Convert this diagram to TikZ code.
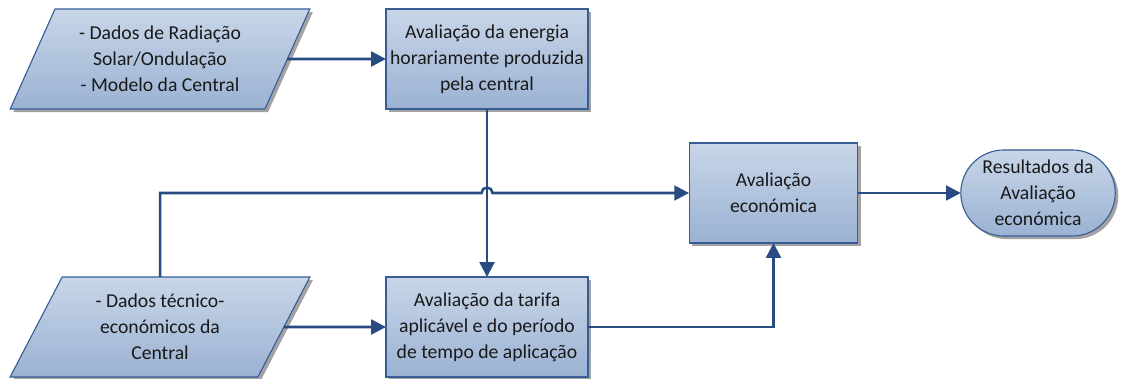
\documentclass[tikz,border=0pt]{standalone}
\usepackage{fontspec}
\setmainfont{Carlito}
\usepackage{tikz}
\usetikzlibrary{arrows.meta,positioning,shapes.geometric,shapes.misc,shadows}

\definecolor{boxtop}{RGB}{200,214,232}
\definecolor{boxbot}{RGB}{155,178,211}
\definecolor{boxline}{RGB}{56,93,150}
\definecolor{flow}{RGB}{40,76,130}

\begin{document}
\begin{tikzpicture}[
  x=0.025cm, y=-0.025cm,
  base/.style={draw=boxline, line width=0.8pt, top color=boxtop, bottom color=boxbot,
               align=center, font=\fontsize{14}{18.5}\selectfont, text=black!90,
               inner sep=2pt, outer sep=0pt,
               drop shadow={shadow xshift=2.2pt, shadow yshift=-2.2pt, fill=black!45, opacity=0.8}},
  process/.style={base, rectangle, minimum height=2.5cm},
  dataio/.style={base, trapezium, trapezium left angle=63.43, trapezium right angle=116.57,
                 trapezium stretches=true, minimum width=7.5cm, minimum height=2.5cm},
  terminal/.style={base, rounded rectangle, minimum width=4cm, minimum height=2.15cm},
  arr/.style={-{Triangle[length=10.5pt, width=10.5pt]}, line width=1.8pt, flow}
]
  \useasboundingbox (0,0) rectangle (1128,379);
  % Inputs
  \node[dataio] (dadosA) at (160,59) {- Dados de Radiação\\Solar/Ondulação\\- Modelo da Central};
  \node[dataio] (dadosB) at (160,327) {- Dados técnico-\\económicos da\\Central};
  % Processes
  \node[process, minimum width=5.05cm] (energia) at (487,59) {Avaliação da energia\\horariamente produzida\\pela central};
  \node[process, minimum width=5.05cm] (tarifa) at (487,327) {Avaliação da tarifa\\aplicável e do período\\de tempo de aplicação};
  \node[process, minimum width=4.22cm] (econ) at (773.5,193) {Avaliação\\económica};
  % Output
  \node[terminal] (result) at (1038,193) {Resultados da\\Avaliação\\económica};
  % Flow
  \coordinate (hop) at (481.5,193);
  \draw[arr] (dadosA.east) -- (energia.west);
  \draw[arr] (dadosB.east) -- (tarifa.west);
  \draw[arr] (energia.south) -- (tarifa.north);
  \draw[arr] (dadosB.north) |- (hop)
    arc[start angle=180, end angle=0, radius=0.1375cm] -- (econ.west);
  \draw[arr] (tarifa.east) -| (econ.south);
  \draw[arr] (econ.east) -- (result.west);
\end{tikzpicture}
\end{document}
